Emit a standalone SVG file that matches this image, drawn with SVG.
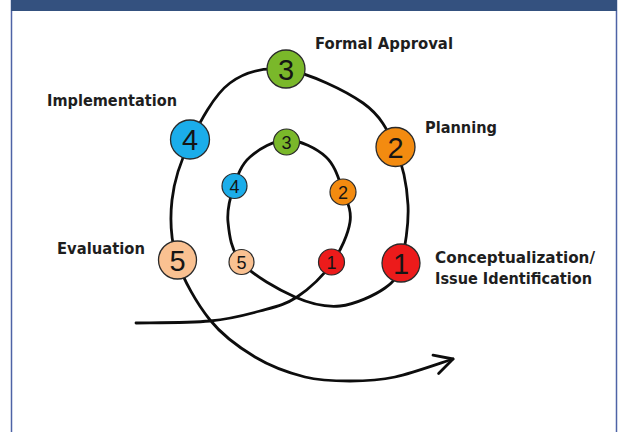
<svg xmlns="http://www.w3.org/2000/svg" width="621" height="432" viewBox="0 0 621 432">
  <style>
    .label { font-family: "DejaVu Sans", "Liberation Sans", sans-serif; font-weight: bold; font-size: 15px; fill: #1e1e1e; }
    .big { stroke: #2a2a2a; stroke-width: 1.3; }
    .small { stroke: #2a2a2a; stroke-width: 1.2; }
    .nbig { font-family: "Liberation Sans", Arial, sans-serif; font-size: 29px; fill: #151515; text-anchor: middle; }
    .nsmall { font-family: "Liberation Sans", Arial, sans-serif; font-size: 18px; fill: #151515; text-anchor: middle; }
    .stage1 { fill: #ec1b1b; }
    .stage2 { fill: #f38b10; }
    .stage3 { fill: #7ab82a; }
    .stage4 { fill: #1badea; }
    .stage5 { fill: #fac191; }
  </style>
  <defs>
    <marker id="openHead" markerUnits="userSpaceOnUse" markerWidth="40" markerHeight="40" refX="0" refY="0" viewBox="-25 -20 30 40" orient="auto" overflow="visible">
      <path d="M-18,-9.5 L0,0 L-18,9.5" fill="none" stroke="#0d0d0d" stroke-width="2.8" stroke-linecap="round" stroke-linejoin="round"/>
    </marker>
  </defs>

  <!-- panel frame -->
  <rect x="0" y="0" width="621" height="432" fill="#ffffff"/>
  <line x1="11.5" y1="0" x2="11.5" y2="432" stroke="#4e63a6" stroke-width="1.5"/>
  <line x1="616.5" y1="0" x2="616.5" y2="432" stroke="#4e63a6" stroke-width="1.5"/>
  <rect x="11" y="0" width="606" height="11" fill="#34517f"/>

  <!-- spiral connector -->
  <g id="connectors">
    <path id="spiral" fill="none" stroke="#0d0d0d" stroke-width="2.8" stroke-linecap="round" marker-end="url(#openHead)"
      d="M136,323 C148.3,322.7 189.3,323 210,321
         C230.7,319 245.5,315 260,311
         C274.5,307 285,305 297,297
         C309,289 323.2,275.5 332,263
         C340.8,250.5 348.2,234 350,222
         C351.8,210 347,201.8 343,191
         C339,180.2 335.3,165.5 326,157
         C316.7,148.5 299.7,140 287,140
         C274.3,140 258.8,149.3 250,157
         C241.2,164.7 237.7,175.2 234,186
         C230.3,196.8 226.7,209.2 228,222
         C229.3,234.8 230.8,250.5 242,263
         C253.2,275.5 278.7,289.8 295,297
         C311.3,304.2 325,307.5 340,306
         C355,304.5 374.8,295.2 385,288
         C395.2,280.8 397.2,276.8 401,263
         C404.8,249.2 409,224.3 408,205
         C407,185.7 402.5,164 395,147
         C387.5,130 381,115.8 363,103
         C345,90.2 309.2,73.3 287,70
         C264.8,66.7 246.2,71 230,83
         C213.8,95 199.7,122.5 190,142
         C180.3,161.5 174.2,180.3 172,200
         C169.8,219.7 170.7,240 177,260
         C183.3,280 197,303.8 210,320
         C223,336.2 239.2,347.5 255,357
         C270.8,366.5 289.2,373 305,377
         C320.8,381 335,381 350,381
         C365,381 377.8,380.7 395,377
         C412.2,373.3 443.3,362 453,359"/>
  </g>

  <!-- outer ring stages -->
  <g id="outer-1">
    <circle class="big stage1" cx="401" cy="263" r="19"/>
    <text class="nbig" x="401" y="273.5">1</text>
  </g>
  <g id="outer-2">
    <circle class="big stage2" cx="395.5" cy="147" r="19.5"/>
    <text class="nbig" x="395.5" y="157.5">2</text>
  </g>
  <g id="outer-3">
    <circle class="big stage3" cx="286" cy="69" r="19"/>
    <text class="nbig" x="286" y="79.5">3</text>
  </g>
  <g id="outer-4">
    <circle class="big stage4" cx="190" cy="139.5" r="19.5"/>
    <text class="nbig" x="190" y="150">4</text>
  </g>
  <g id="outer-5">
    <circle class="big stage5" cx="177.5" cy="260" r="19"/>
    <text class="nbig" x="177.5" y="270.5">5</text>
  </g>

  <!-- inner ring stages -->
  <g id="inner-1">
    <circle class="small stage1" cx="331.5" cy="262" r="13"/>
    <text class="nsmall" x="331.5" y="268.5">1</text>
  </g>
  <g id="inner-2">
    <circle class="small stage2" cx="343" cy="192" r="13"/>
    <text class="nsmall" x="343" y="198.5">2</text>
  </g>
  <g id="inner-3">
    <circle class="small stage3" cx="286.5" cy="142" r="13"/>
    <text class="nsmall" x="286.5" y="148.5">3</text>
  </g>
  <g id="inner-4">
    <circle class="small stage4" cx="234.5" cy="186" r="12.5"/>
    <text class="nsmall" x="234.5" y="192.5">4</text>
  </g>
  <g id="inner-5">
    <circle class="small stage5" cx="241.5" cy="262" r="12.5"/>
    <text class="nsmall" x="241.5" y="268.5">5</text>
  </g>

  <!-- stage labels -->
  <g id="label-formal-approval">
    <text class="label" x="315" y="49" textLength="138" lengthAdjust="spacingAndGlyphs">Formal Approval</text>
  </g>
  <g id="label-implementation">
    <text class="label" x="47" y="106" textLength="130" lengthAdjust="spacingAndGlyphs">Implementation</text>
  </g>
  <g id="label-planning">
    <text class="label" x="425" y="133" textLength="72" lengthAdjust="spacingAndGlyphs">Planning</text>
  </g>
  <g id="label-evaluation">
    <text class="label" x="57" y="254" textLength="88" lengthAdjust="spacingAndGlyphs">Evaluation</text>
  </g>
  <g id="label-conceptualization">
    <text class="label" x="435" y="263" textLength="160" lengthAdjust="spacingAndGlyphs">Conceptualization/</text>
    <text class="label" x="435" y="284" textLength="157" lengthAdjust="spacingAndGlyphs">Issue Identification</text>
  </g>
</svg>
